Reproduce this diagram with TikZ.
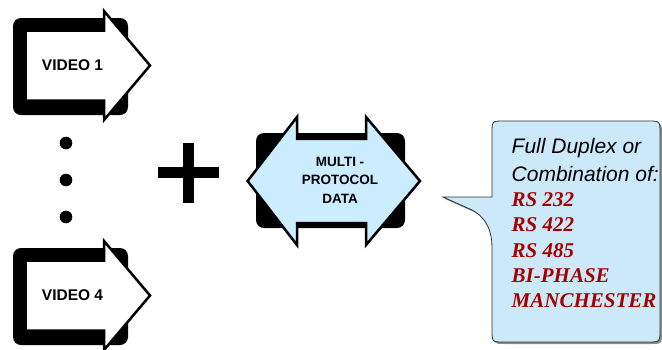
\documentclass[tikz,border=0pt]{standalone}
\usepackage{fontspec}
\setsansfont{Liberation Sans}
\setmainfont{Liberation Serif}
\definecolor{protoblue}{RGB}{204,236,255}
\definecolor{calloutblue}{RGB}{204,233,250}
\definecolor{signalred}{RGB}{165,0,0}

\begin{document}
\begin{tikzpicture}[
    x=1pt, y=-1pt,
    font=\sffamily,
    line join=miter,
    frame/.style={fill=black, rounded corners=8pt},
    arrowbody/.style={draw=black, line width=2.5pt},
    vidtext/.style={inner sep=0pt, font=\sffamily\bfseries\fontsize{15.5}{18}\selectfont},
    prototext/.style={inner sep=0pt, align=center, font=\sffamily\bfseries\fontsize{13.5}{18.5}\selectfont},
    callout/.style={fill=calloutblue, draw=black!80, line width=0.8pt,
                    preaction={fill=black!45, transform canvas={shift={(2pt,-2pt)}}}}
]
\useasboundingbox (0,0) rectangle (662,349);

% ----------------------
% Video inputs
% ----------------------

\foreach \dy/\lbl/\nm in {0/VIDEO 1/video1, 230/VIDEO 4/video4} {
  \begin{scope}[shift={(0,\dy)}]
    \fill[frame] (13,18) rectangle (128,115);
    \filldraw[fill=white, arrowbody] (25.5,30.5) -- (104,30.5) -- (104,11) -- (150,65.5)
        -- (104,120) -- (104,100.5) -- (25.5,100.5) -- cycle;
    \node[vidtext] (\nm) at (72.5,65.5) {\lbl};
  \end{scope}
}

% dots between the inputs
\foreach \yy in {143,180,217}
  \fill (66,\yy) circle (6.3pt);

% plus sign
\fill (158,167) rectangle (219,178);
\fill (183,143) rectangle (194,203);

% ----------------------
% Multi-protocol data
% ----------------------

\fill[frame] (256,133) rectangle (405,228);
\filldraw[fill=protoblue, arrowbody] (247.6,181) -- (297,117) -- (297,138.8) -- (366,138.8)
    -- (366,117) -- (420,181) -- (366,245) -- (366,223) -- (297,223) -- (297,245) -- cycle;
\node[prototext] (data) at (340,180) {MULTI -\\PROTOCOL\\DATA};

% ----------------------
% Callout
% ----------------------

\draw[callout] (443,197) -- (472,210) .. controls (487,218) and (492,232) .. (492,247)
    -- (492,330) .. controls (492,342) .. (504,342)
    -- (648,342) .. controls (660,342) .. (660,330)
    -- (660,133) .. controls (660,121) .. (648,121)
    -- (504,121) .. controls (492,121) .. (492,133)
    -- (492,197) -- cycle;

\node[anchor=north west, inner sep=0pt, align=left,
      font=\sffamily\itshape\fontsize{21}{27.6}\selectfont] (duplex) at (511.5,138)
      {Full Duplex or\\Combination of:};
\node[anchor=north west, inner sep=0pt, align=left, text=signalred,
      font=\rmfamily\bfseries\itshape\fontsize{21}{25.3}\selectfont] (protos) at (511.5,192.5)
      {RS 232\\RS 422\\RS 485\\BI-PHASE\\MANCHESTER};

\end{tikzpicture}
\end{document}
